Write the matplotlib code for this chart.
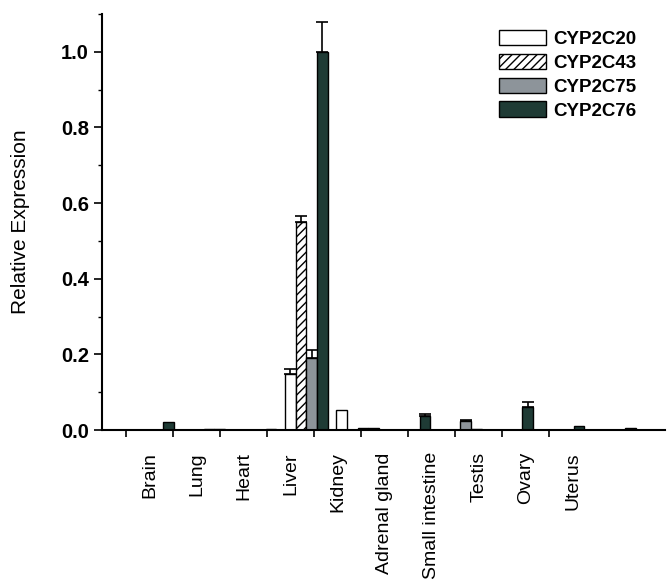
import numpy as np
import matplotlib
matplotlib.use('Agg')
import matplotlib.pyplot as plt

plt.rcParams['font.family'] = ['Liberation Sans', 'DejaVu Sans']
plt.rcParams['hatch.linewidth'] = 1.0

# data
tissues = ['Brain', 'Lung', 'Heart', 'Liver', 'Kidney', 'Adrenal gland',
           'Small intestine', 'Testis', 'Ovary', 'Uterus']
genes = ['CYP2C20', 'CYP2C43', 'CYP2C75', 'CYP2C76']

cyp2c20 = [0, 0, 0, 0.147, 0.053, 0, 0, 0, 0, 0]
cyp2c43 = [0, 0, 0, 0.55, 0, 0, 0, 0, 0, 0]
cyp2c75 = [0, 0.003, 0, 0.19, 0.004, 0, 0.024, 0, 0, 0]
cyp2c76 = [0.02, 0.003, 0.003, 1.0, 0.004, 0.037, 0.003, 0.06, 0.01, 0.006]

cyp2c20_err = [0, 0, 0, 0.013, 0, 0, 0, 0, 0, 0]
cyp2c43_err = [0, 0, 0, 0.015, 0, 0, 0, 0, 0, 0]
cyp2c75_err = [0, 0, 0, 0.022, 0, 0, 0.003, 0, 0, 0]
cyp2c76_err = [0, 0, 0, 0.078, 0, 0.005, 0, 0.014, 0, 0]

values = [cyp2c20, cyp2c43, cyp2c75, cyp2c76]
errors = [cyp2c20_err, cyp2c43_err, cyp2c75_err, cyp2c76_err]
colors = ['white', 'white', '#8d949a', '#1f3b35']
hatches = [None, '////', None, None]

fig = plt.figure(figsize=(6.69, 5.88), dpi=100)
ax = fig.add_axes([0.1525, 0.2687, 0.8415, 0.7075])

# bar groups sit on a slightly wider spacing than the tick labels (as in the original)
x = np.arange(len(tissues))
centers = 0.05 + 1.092 * x
w = 0.228

for k in range(4):
    pos = centers + (k - 1.5) * w
    ax.bar(pos, values[k], width=w, color=colors[k], edgecolor='black',
           linewidth=1.0, hatch=hatches[k], label=genes[k], zorder=2)
    err = np.array(errors[k])
    m = err > 0
    ax.errorbar(pos[m], np.array(values[k])[m],
                yerr=[np.zeros(m.sum()), err[m]], fmt='none',
                ecolor='black', elinewidth=1.2, capsize=4, capthick=1.2, zorder=3)

ax.set_xlim(-1.02, 10.96)
ax.set_ylim(0, 1.1)

ax.spines['top'].set_visible(False)
ax.spines['right'].set_visible(False)
ax.spines['left'].set_linewidth(1.5)
ax.spines['bottom'].set_linewidth(1.5)

ax.set_xticks(x - 0.5, minor=False)
ax.set_xticklabels([])
ax.set_xticks(x, minor=True)
ax.set_xticklabels(tissues, minor=True, rotation=90, fontsize=14, va='top')
ax.tick_params(axis='x', which='major', direction='out', length=5, width=1.2)
ax.tick_params(axis='x', which='minor', length=0, pad=16)

ax.set_yticks([0, 0.2, 0.4, 0.6, 0.8, 1.0])
ax.set_yticks(np.arange(0.1, 1.11, 0.2), minor=True)
ax.set_yticklabels(['0.0', '0.2', '0.4', '0.6', '0.8', '1.0'],
                   fontsize=14.5, fontweight='bold')
ax.tick_params(axis='y', which='major', direction='out', length=6, width=1.2)
ax.tick_params(axis='y', which='minor', direction='out', length=3, width=1.0)

ax.set_ylabel('Relative Expression', fontsize=15, labelpad=22)

ax.legend(loc='upper right', bbox_to_anchor=(0.963, 0.98), frameon=False,
          prop={'size': 13.5, 'weight': 'bold'}, handlelength=2.5,
          handleheight=0.9, labelspacing=0.3, handletextpad=0.4,
          borderaxespad=0.0)

fig.savefig('out.png', dpi=100)
